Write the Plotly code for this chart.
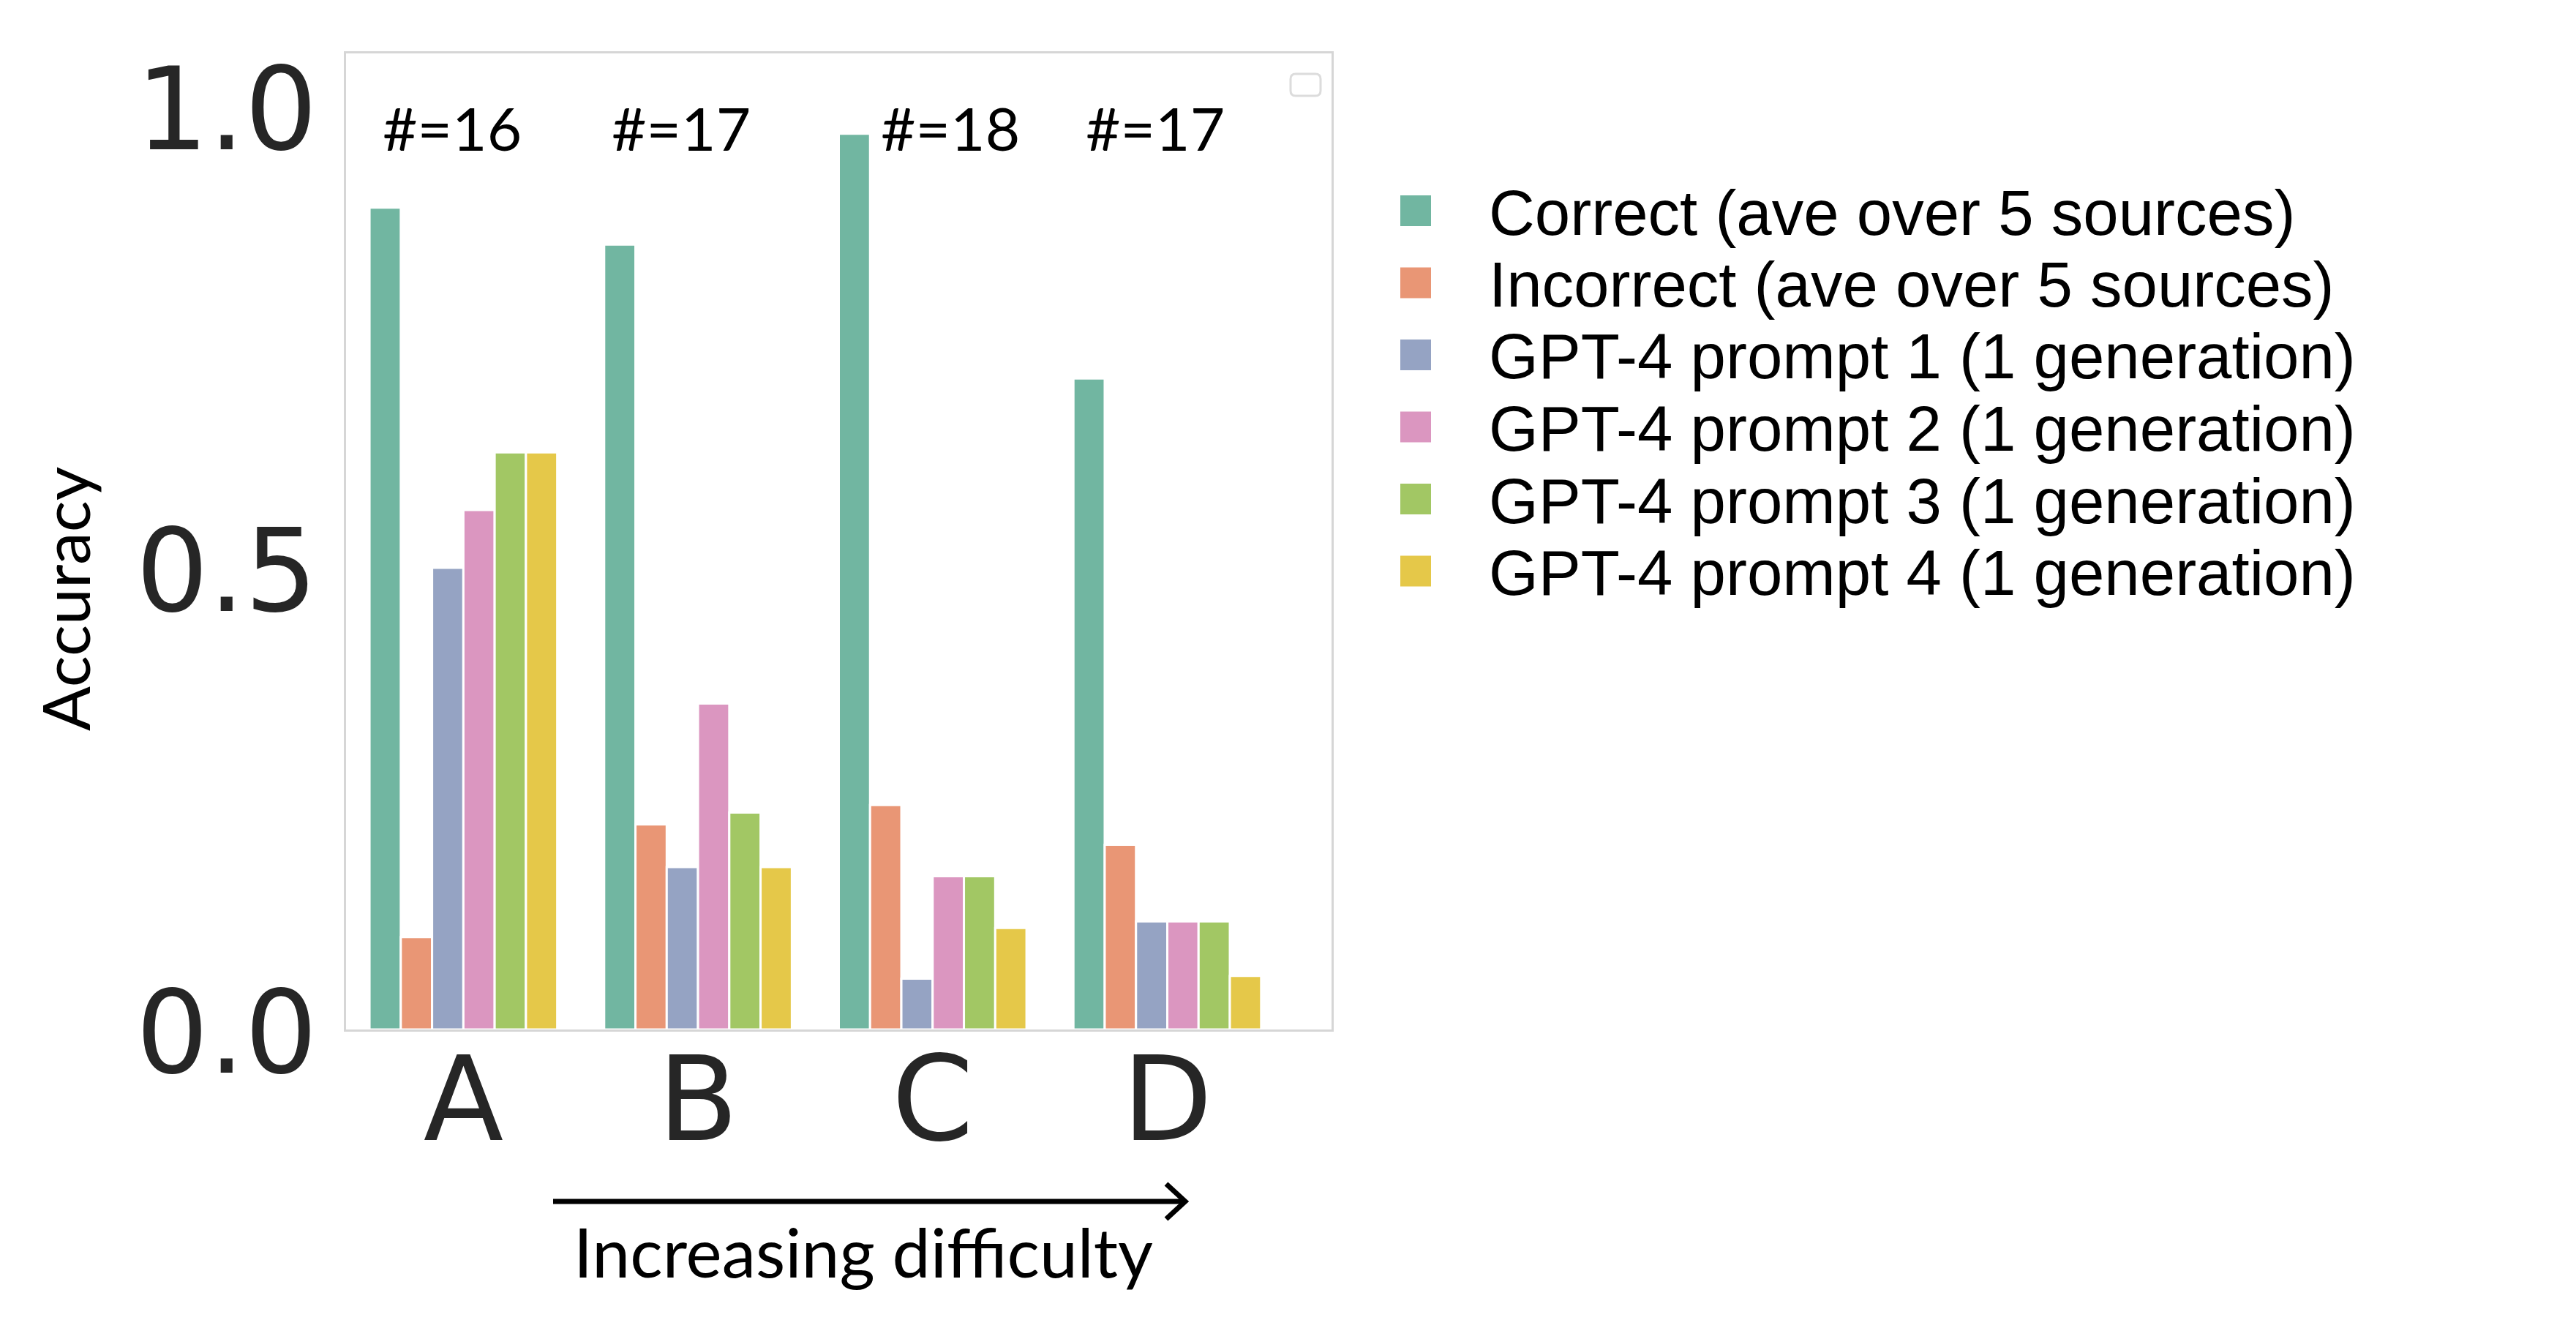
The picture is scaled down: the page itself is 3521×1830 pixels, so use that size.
import plotly.graph_objects as go

categories = ["A", "B", "C", "D"]
counts = [16, 17, 18, 17]
series_names = [
    "Correct (ave over 5 sources)",
    "Incorrect (ave over 5 sources)",
    "GPT-4 prompt 1 (1 generation)",
    "GPT-4 prompt 2 (1 generation)",
    "GPT-4 prompt 3 (1 generation)",
    "GPT-4 prompt 4 (1 generation)",
]
correct = [0.89, 0.85, 0.97, 0.705]
incorrect = [0.10, 0.222, 0.243, 0.20]
prompt1 = [0.50, 0.176, 0.055, 0.117]
prompt2 = [0.5625, 0.353, 0.166, 0.117]
prompt3 = [0.625, 0.235, 0.166, 0.117]
prompt4 = [0.625, 0.176, 0.110, 0.058]
series_values = [correct, incorrect, prompt1, prompt2, prompt3, prompt4]
colors = ["#71b6a1", "#e99675", "#95a3c3", "#db96c0", "#a2c764", "#e5c849"]

PAGE_W, PAGE_H = 3521, 1830
OFF = 8
W, H = PAGE_W - 2 * OFF, PAGE_H - 2 * OFF
# plot area (figure pixels)
L, R, T, B = 465, 1812, 65, 1399


def px(x):
    return (x - L) / (R - L)


def py(y):
    return (B - y) / (B - T)


fig = go.Figure()
for name, vals, col in zip(series_names, series_values, colors):
    fig.add_trace(go.Bar(
        x=categories, y=vals, name=name, showlegend=False,
        marker=dict(color=col, line=dict(color="white", width=3)),
    ))

fig.update_layout(
    width=W, height=H,
    margin=dict(l=L, r=W - R, t=T, b=H - B),
    paper_bgcolor="white", plot_bgcolor="white",
    barmode="group", bargap=0.2, bargroupgap=0,
    font=dict(family="DejaVu Sans", color="#262626"),
)
fig.update_xaxes(
    type="category", range=[-0.5, 3.70],
    showline=True, mirror=True, linecolor="#d6d6d6", linewidth=3,
    showgrid=False, zeroline=False,
    ticks="", ticklabelstandoff=-44,
    tickfont=dict(family="DejaVu Sans", size=160, color="#262626"),
)
fig.update_yaxes(
    range=[0, 1.057], tickvals=[0, 0.5, 1.0], ticktext=["0.0", "0.5", "1.0"],
    showline=True, mirror=True, linecolor="#d6d6d6", linewidth=3,
    showgrid=False, zeroline=False,
    ticks="outside", ticklen=5, tickcolor="rgba(0,0,0,0)",
    ticklabelshift=4,
    tickfont=dict(family="DejaVu Sans", size=156, color="#262626"),
)

# count labels above groups
label_shift = [-15, -23, 24, -17]
for cat, n, sh in zip(categories, counts, label_shift):
    fig.add_annotation(
        x=cat, y=py(166), xref="x", yref="paper", text=f"#={n}",
        showarrow=False, xshift=sh, yanchor="middle",
        font=dict(family="Lato", size=82, color="black"),
    )

# y axis title
fig.add_annotation(
    x=px(80), y=py(811), xref="paper", yref="paper", text="Accuracy",
    textangle=-90, showarrow=False, xanchor="center", yanchor="middle",
    font=dict(family="Lato", size=90, color="black"),
)

# empty legend box (top-right)
x0, x1, y0, y1, r = 1756, 1797, 93, 123, 7
fig.add_shape(
    type="path", xref="paper", yref="paper",
    path=(f"M {px(x0 + r)},{py(y0)} L {px(x1 - r)},{py(y0)} "
          f"Q {px(x1)},{py(y0)} {px(x1)},{py(y0 + r)} "
          f"L {px(x1)},{py(y1 - r)} Q {px(x1)},{py(y1)} {px(x1 - r)},{py(y1)} "
          f"L {px(x0 + r)},{py(y1)} Q {px(x0)},{py(y1)} {px(x0)},{py(y1 - r)} "
          f"L {px(x0)},{py(y0 + r)} Q {px(x0)},{py(y0)} {px(x0 + r)},{py(y0)} Z"),
    line=dict(color="#dcdcdc", width=3), fillcolor="rgba(0,0,0,0)",
)

# legend (manual, large squares)
for i, (name, col) in enumerate(zip(series_names, colors)):
    cy = 280 + i * 98.5
    fig.add_shape(
        type="rect", xref="paper", yref="paper",
        x0=px(1906), x1=px(1948), y0=py(cy - 21), y1=py(cy + 21),
        fillcolor=col, line=dict(width=0),
    )
    fig.add_annotation(
        x=px(2025), y=py(cy + 2), xref="paper", yref="paper", text=name,
        showarrow=False, xanchor="left", yanchor="middle",
        font=dict(family="Liberation Sans", size=87, color="black"),
    )

# arrow and difficulty label
ay = 1634
fig.add_shape(type="line", xref="paper", yref="paper",
              x0=px(748), x1=px(1610), y0=py(ay), y1=py(ay),
              line=dict(color="black", width=7))
fig.add_shape(type="path", xref="paper", yref="paper",
              path=(f"M {px(1586)},{py(ay - 24)} L {px(1612)},{py(ay)} "
                    f"L {px(1586)},{py(ay + 24)}"),
              line=dict(color="black", width=7))
fig.add_annotation(
    x=px(1172), y=py(1702), xref="paper", yref="paper",
    text="Increasing difficulty", showarrow=False,
    xanchor="center", yanchor="middle",
    font=dict(family="Lato", size=93, color="black"),
)

fig.write_html("out.html")
